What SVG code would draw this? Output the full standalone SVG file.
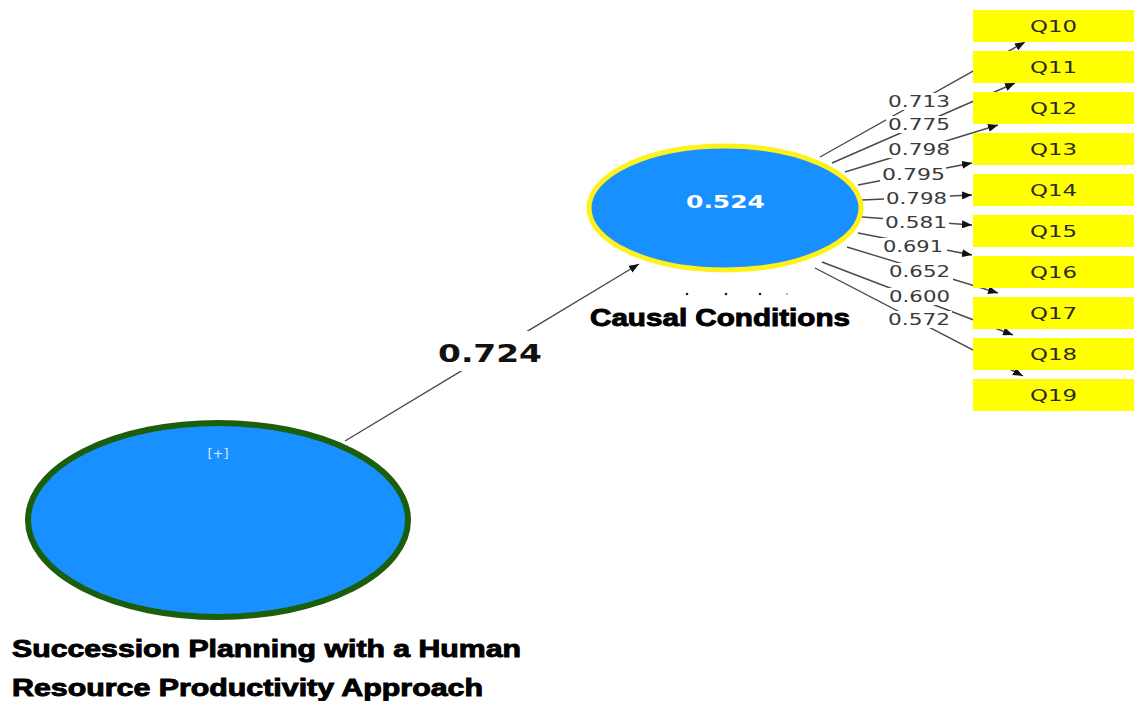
<svg xmlns="http://www.w3.org/2000/svg" width="1134" height="701" viewBox="0 0 1134 701">
<style>
.ln{stroke:#4a4a4a;stroke-width:1.4;fill:none}
.lb{font-family:"DejaVu Sans","Liberation Sans",sans-serif;font-size:15px;fill:#3a3a3a}
.lbg{fill:#ffffff}
.box{fill:#FFFF00}
.bt{font-family:"DejaVu Sans","Liberation Sans",sans-serif;font-size:15px;fill:#2a2a2a}
.title{font-family:"Liberation Sans",Arial,sans-serif;font-weight:700;fill:#000;stroke:#000;stroke-width:0.9}
</style>
<defs>
<marker id="ah" markerUnits="userSpaceOnUse" markerWidth="10" markerHeight="8" refX="10" refY="4" orient="auto">
<path d="M0,0 L10,4 L0,8 Z" fill="#111"/>
</marker>
</defs>
<rect width="1134" height="701" fill="#ffffff"/>
<g id="connectors">
<line class="ln" x1="345" y1="441" x2="639" y2="264" marker-end="url(#ah)"/>
<line class="ln" x1="820" y1="157" x2="1025" y2="42" marker-end="url(#ah)"/>
<line class="ln" x1="832" y1="163" x2="1015" y2="83" marker-end="url(#ah)"/>
<line class="ln" x1="845" y1="172" x2="998" y2="125" marker-end="url(#ah)"/>
<line class="ln" x1="858" y1="185" x2="972" y2="163" marker-end="url(#ah)"/>
<line class="ln" x1="862" y1="200" x2="972" y2="195" marker-end="url(#ah)"/>
<line class="ln" x1="862" y1="217" x2="972" y2="225" marker-end="url(#ah)"/>
<line class="ln" x1="858" y1="233" x2="972" y2="255" marker-end="url(#ah)"/>
<line class="ln" x1="847" y1="247" x2="998" y2="293" marker-end="url(#ah)"/>
<line class="ln" x1="822" y1="262" x2="1013" y2="335" marker-end="url(#ah)"/>
<line class="ln" x1="815" y1="268" x2="1023" y2="376" marker-end="url(#ah)"/>
<rect class="lbg" x="455" y="331" width="80" height="40"/>
<text x="438" y="362" font-family="DejaVu Sans, Liberation Sans, sans-serif" font-weight="700" font-size="25" fill="#111" textLength="104" lengthAdjust="spacingAndGlyphs">0.724</text>
<rect class="lbg" x="886" y="93" width="66" height="17"/>
<text class="lb" x="888" y="107" textLength="62" lengthAdjust="spacingAndGlyphs">0.713</text>
<rect class="lbg" x="886" y="116" width="66" height="17"/>
<text class="lb" x="888" y="130" textLength="62" lengthAdjust="spacingAndGlyphs">0.775</text>
<rect class="lbg" x="886" y="141" width="66" height="17"/>
<text class="lb" x="888" y="155" textLength="62" lengthAdjust="spacingAndGlyphs">0.798</text>
<rect class="lbg" x="880" y="166" width="66" height="17"/>
<text class="lb" x="882" y="180" textLength="63" lengthAdjust="spacingAndGlyphs">0.795</text>
<rect class="lbg" x="884" y="190" width="66" height="17"/>
<text class="lb" x="886" y="204" textLength="61" lengthAdjust="spacingAndGlyphs">0.798</text>
<rect class="lbg" x="883" y="214" width="66" height="17"/>
<text class="lb" x="885" y="228" textLength="62" lengthAdjust="spacingAndGlyphs">0.581</text>
<rect class="lbg" x="881" y="238" width="66" height="17"/>
<text class="lb" x="883" y="252" textLength="60" lengthAdjust="spacingAndGlyphs">0.691</text>
<rect class="lbg" x="887" y="263" width="66" height="17"/>
<text class="lb" x="889" y="277" textLength="61" lengthAdjust="spacingAndGlyphs">0.652</text>
<rect class="lbg" x="887" y="288" width="66" height="17"/>
<text class="lb" x="889" y="302" textLength="61" lengthAdjust="spacingAndGlyphs">0.600</text>
<rect class="lbg" x="886" y="311" width="66" height="17"/>
<text class="lb" x="888" y="325" textLength="62" lengthAdjust="spacingAndGlyphs">0.572</text>
</g>
<g id="succession">
<ellipse cx="218" cy="520" rx="190" ry="97" fill="#1990FF" stroke="#1B5E0C" stroke-width="6"/>
<text x="218" y="458" text-anchor="middle" font-family="DejaVu Sans, sans-serif" font-size="13" fill="#d8ecff">[+]</text>
<text class="title" x="12" y="657" font-size="23" textLength="509" lengthAdjust="spacingAndGlyphs">Succession Planning with a Human</text>
<text class="title" x="12" y="696" font-size="23" textLength="471" lengthAdjust="spacingAndGlyphs">Resource Productivity Approach</text>
</g>
<g id="causal">
<ellipse cx="725" cy="208" rx="136" ry="62" fill="#1990FF" stroke="#FFF21A" stroke-width="5"/>
<text x="686" y="208" font-family="DejaVu Sans, Liberation Sans, sans-serif" font-weight="700" font-size="18" fill="#ffffff" textLength="79" lengthAdjust="spacingAndGlyphs">0.524</text>
<circle cx="687" cy="294" r="1.3" fill="#222"/>
<circle cx="726" cy="294" r="1.3" fill="#222"/>
<circle cx="760" cy="294" r="1.3" fill="#222"/>
<circle cx="787" cy="294" r="1" fill="#999"/>
<text class="title" x="590" y="326" font-size="23" textLength="260" lengthAdjust="spacingAndGlyphs">Causal Conditions</text>
</g>
<g id="Q10"><rect class="box" x="973" y="10" width="161" height="32"/><text class="bt" x="1030" y="32" textLength="47" lengthAdjust="spacingAndGlyphs">Q10</text></g>
<g id="Q11"><rect class="box" x="973" y="51" width="161" height="32"/><text class="bt" x="1030" y="73" textLength="47" lengthAdjust="spacingAndGlyphs">Q11</text></g>
<g id="Q12"><rect class="box" x="973" y="92" width="161" height="32"/><text class="bt" x="1030" y="114" textLength="47" lengthAdjust="spacingAndGlyphs">Q12</text></g>
<g id="Q13"><rect class="box" x="973" y="133" width="161" height="32"/><text class="bt" x="1030" y="155" textLength="47" lengthAdjust="spacingAndGlyphs">Q13</text></g>
<g id="Q14"><rect class="box" x="973" y="174" width="161" height="32"/><text class="bt" x="1030" y="196" textLength="47" lengthAdjust="spacingAndGlyphs">Q14</text></g>
<g id="Q15"><rect class="box" x="973" y="215" width="161" height="32"/><text class="bt" x="1030" y="237" textLength="47" lengthAdjust="spacingAndGlyphs">Q15</text></g>
<g id="Q16"><rect class="box" x="973" y="256" width="161" height="32"/><text class="bt" x="1030" y="278" textLength="47" lengthAdjust="spacingAndGlyphs">Q16</text></g>
<g id="Q17"><rect class="box" x="973" y="297" width="161" height="32"/><text class="bt" x="1030" y="319" textLength="47" lengthAdjust="spacingAndGlyphs">Q17</text></g>
<g id="Q18"><rect class="box" x="973" y="338" width="161" height="32"/><text class="bt" x="1030" y="360" textLength="47" lengthAdjust="spacingAndGlyphs">Q18</text></g>
<g id="Q19"><rect class="box" x="973" y="379" width="161" height="32"/><text class="bt" x="1030" y="401" textLength="47" lengthAdjust="spacingAndGlyphs">Q19</text></g>
</svg>
